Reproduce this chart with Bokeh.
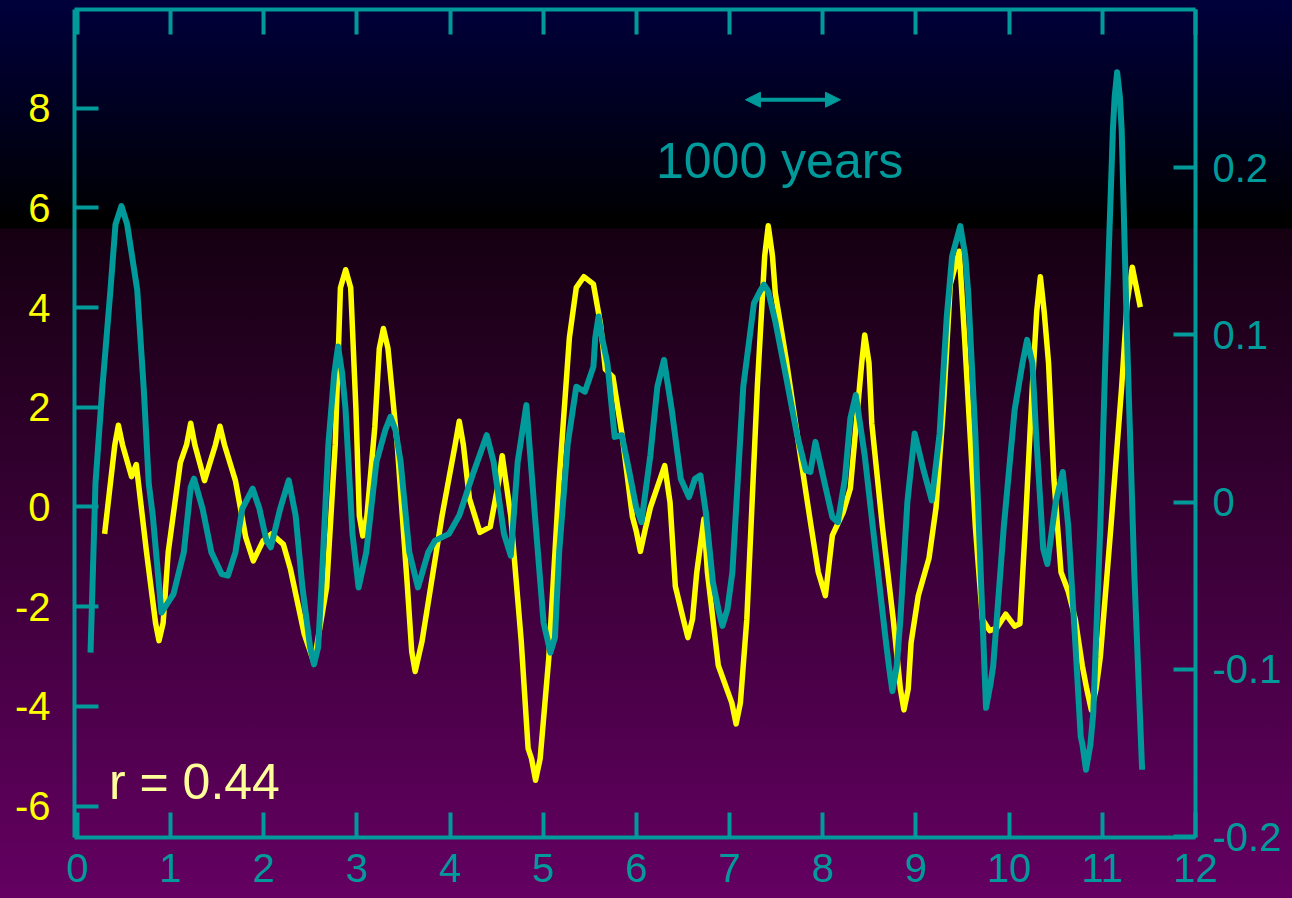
from bokeh.plotting import figure
from bokeh.models import (Range1d, LinearAxis, FixedTicker, CustomJSTickFormatter,
                          Arrow, NormalHead, Label, GlobalInlineStyleSheet, InlineStyleSheet)
from bokeh.embed import file_html
from bokeh.resources import INLINE

# ---------------- data ----------------
x_ticks = list(range(0, 13))
left_ticks = [-6, -4, -2, 0, 2, 4, 6, 8]
right_ticks = [-0.2, -0.1, 0.0, 0.1, 0.2]

# yellow series (left axis)
yellow_x = [0.293, 0.403, 0.441, 0.485, 0.582, 0.633, 0.742, 0.840,
            0.877, 0.921, 0.976, 1.106, 1.173, 1.217, 1.261, 1.365,
            1.483, 1.531, 1.579, 1.697, 1.808, 1.889, 1.993, 2.084,
            2.212, 2.288, 2.436, 2.540, 2.676, 2.768, 2.824, 2.880,
            2.934, 2.990, 3.027, 3.064, 3.108, 3.193, 3.241, 3.285,
            3.334, 3.433, 3.543, 3.589, 3.626, 3.700, 3.914, 4.055,
            4.099, 4.143, 4.208, 4.321, 4.431, 4.524, 4.560, 4.652,
            4.764, 4.838, 4.875, 4.918, 4.967, 5.059, 5.171, 5.281,
            5.355, 5.436, 5.539, 5.614, 5.667, 5.748, 5.843, 5.957,
            5.997, 6.043, 6.092, 6.150, 6.304, 6.361, 6.418, 6.503,
            6.553, 6.602, 6.648, 6.725, 6.762, 6.879, 7.024, 7.070,
            7.116, 7.185, 7.298, 7.377, 7.415, 7.460, 7.491, 7.606,
            7.760, 7.874, 7.952, 8.028, 8.103, 8.220, 8.296, 8.418,
            8.450, 8.496, 8.526, 8.639, 8.756, 8.833, 8.871, 8.917,
            8.948, 9.025, 9.140, 9.216, 9.293, 9.369, 9.465, 9.523,
            9.637, 9.713, 9.791, 9.867, 9.963, 10.059, 10.116, 10.174,
            10.249, 10.296, 10.335, 10.376, 10.423, 10.481, 10.557, 10.634,
            10.710, 10.785, 10.833, 10.882, 10.933, 10.979, 11.093, 11.208,
            11.266, 11.322, 11.408]
yellow_v = [-0.54, 1.25, 1.64, 1.25, 0.61, 0.85, -0.89, -2.33,
            -2.68, -2.33, -0.90, 0.89, 1.25, 1.68, 1.25, 0.53,
            1.25, 1.62, 1.25, 0.53, -0.61, -1.08, -0.68, -0.54,
            -0.75, -1.25, -2.55, -3.12, -1.61, 1.25, 4.40, 4.76,
            4.40, 1.97, -0.18, -0.58, -0.18, 1.61, 3.18, 3.58,
            3.18, 1.26, -1.61, -2.90, -3.30, -2.69, -0.18, 1.25,
            1.72, 1.25, 0.17, -0.51, -0.40, 0.53, 1.03, -0.18,
            -2.69, -4.84, -5.05, -5.48, -5.05, -3.05, 0.53, 3.40,
            4.40, 4.62, 4.47, 3.68, 2.76, 2.61, 1.49, -0.19,
            -0.47, -0.89, -0.47, -0.01, 0.83, 0.09, -1.59, -2.25,
            -2.62, -2.25, -1.31, -0.24, -1.31, -3.18, -3.93, -4.35,
            -3.93, -2.25, 2.42, 5.04, 5.64, 5.04, 4.29, 2.98,
            1.02, -0.38, -1.31, -1.78, -0.57, -0.10, 0.37, 2.89,
            3.45, 2.89, 1.68, -0.38, -2.25, -3.65, -4.07, -3.65,
            -2.72, -1.78, -1.03, -0.01, 1.96, 4.47, 5.13, 3.36,
            -0.38, -2.25, -2.48, -2.43, -2.15, -2.39, -2.34, -0.38,
            2.42, 3.92, 4.62, 3.92, 2.89, 0.55, -1.31, -1.69,
            -2.25, -3.18, -3.65, -4.07, -3.65, -3.00, -0.38, 2.42,
            4.10, 4.81, 4.01]

# teal series (right axis)
teal_x = [0.142, 0.195, 0.267, 0.356, 0.410, 0.474, 0.535, 0.643,
          0.714, 0.767, 0.810, 0.903, 1.032, 1.143, 1.217, 1.253,
          1.345, 1.439, 1.549, 1.616, 1.697, 1.770, 1.882, 1.955,
          2.030, 2.077, 2.177, 2.269, 2.343, 2.416, 2.499, 2.540,
          2.584, 2.620, 2.695, 2.758, 2.798, 2.842, 2.878, 2.953,
          3.019, 3.101, 3.210, 3.305, 3.361, 3.415, 3.470, 3.563,
          3.656, 3.766, 3.840, 3.988, 4.099, 4.247, 4.394, 4.468,
          4.579, 4.652, 4.726, 4.819, 4.911, 5.004, 5.041, 5.077,
          5.126, 5.171, 5.263, 5.355, 5.447, 5.539, 5.558, 5.594,
          5.632, 5.689, 5.767, 5.843, 5.921, 5.997, 6.054, 6.150,
          6.225, 6.296, 6.380, 6.476, 6.564, 6.629, 6.687, 6.745,
          6.821, 6.879, 6.923, 6.977, 7.030, 7.147, 7.262, 7.326,
          7.369, 7.415, 7.491, 7.606, 7.721, 7.818, 7.867, 7.921,
          8.009, 8.103, 8.162, 8.238, 8.296, 8.354, 8.450, 8.564,
          8.679, 8.710, 8.747, 8.794, 8.833, 8.908, 8.986, 9.082,
          9.170, 9.254, 9.331, 9.388, 9.476, 9.530, 9.561, 9.637,
          9.695, 9.752, 9.799, 9.829, 9.944, 10.059, 10.143, 10.193,
          10.250, 10.289, 10.366, 10.410, 10.500, 10.576, 10.634, 10.710,
          10.768, 10.787, 10.825, 10.872, 10.903, 10.979, 11.054, 11.113,
          11.132, 11.159, 11.189, 11.208, 11.266, 11.343, 11.427]
teal_v = [-0.090, 0.011, 0.067, 0.127, 0.166, 0.177, 0.166, 0.127,
          0.067, 0.011, -0.008, -0.066, -0.055, -0.030, 0.009, 0.014,
          -0.004, -0.030, -0.043, -0.044, -0.030, -0.004, 0.008, -0.004,
          -0.023, -0.027, -0.004, 0.013, -0.008, -0.051, -0.087, -0.097,
          -0.087, -0.051, 0.035, 0.077, 0.093, 0.077, 0.056, -0.019,
          -0.051, -0.030, 0.024, 0.043, 0.051, 0.043, 0.024, -0.030,
          -0.051, -0.030, -0.023, -0.019, -0.008, 0.017, 0.040, 0.024,
          -0.019, -0.032, 0.024, 0.058, -0.008, -0.072, -0.081, -0.090,
          -0.081, -0.030, 0.035, 0.069, 0.066, 0.081, 0.098, 0.111,
          0.098, 0.083, 0.039, 0.040, 0.019, -0.003, -0.012, 0.028,
          0.069, 0.085, 0.055, 0.014, 0.003, 0.014, 0.016, -0.006,
          -0.048, -0.064, -0.074, -0.064, -0.042, 0.069, 0.119, 0.126,
          0.130, 0.126, 0.108, 0.075, 0.041, 0.019, 0.018, 0.036,
          0.014, -0.009, -0.012, 0.014, 0.050, 0.064, 0.028, -0.028,
          -0.084, -0.098, -0.113, -0.098, -0.070, 0.000, 0.041, 0.019,
          0.001, 0.041, 0.111, 0.147, 0.165, 0.147, 0.125, 0.041,
          -0.042, -0.123, -0.109, -0.098, -0.014, 0.055, 0.083, 0.097,
          0.083, 0.041, -0.028, -0.037, 0.000, 0.018, -0.014, -0.084,
          -0.140, -0.145, -0.160, -0.145, -0.126, -0.014, 0.125, 0.222,
          0.242, 0.257, 0.242, 0.222, 0.097, -0.042, -0.160]

scale_text = "1000 years"
scale_start = 7.17
scale_end = 8.19
scale_level = 8.17
scale_text_x = 6.21
scale_text_y = 6.94
r_text = "r = 0.44"
r_text_x = 0.34
r_text_y = -5.51

# ---------------- style ----------------
TEAL = "#009a9a"
YELLOW = "#ffff00"
PALE = "#ffff99"
FONT = "Liberation Sans"
GRAD = ("linear-gradient(to bottom, #00003c 0px, #000008 200px, #000000 218px, "
        "#000000 228px, #150011 229px, #640062 898px)")

p = figure(width=1292, height=898,
           x_range=Range1d(-0.03, 12.0), y_range=Range1d(-6.63, 9.98),
           output_backend="svg", toolbar_location=None,
           min_border_left=74, min_border_right=97,
           min_border_top=9, min_border_bottom=61)
p.extra_y_ranges = {"right": Range1d(-0.2005, 0.2945)}
p.border_fill_color = None
p.background_fill_color = None
p.outline_line_color = None
p.grid.visible = False
p.stylesheets = [
    GlobalInlineStyleSheet(css=f"html {{ background: {GRAD}; background-size: 100% 898px; "
                               f"background-repeat: no-repeat; background-color: #640062; "
                               f"overflow: hidden; }} body {{ overflow: hidden; }}"),
    InlineStyleSheet(css=f":host {{ background: {GRAD}; background-size: 100% 898px; "
                         f"background-position: 0 0; background-repeat: no-repeat; }}"),
]


def style_axis(ax, color, standoff, tick_in):
    ax.axis_line_color = TEAL
    ax.axis_line_width = 4
    ax.major_tick_line_color = TEAL
    ax.major_tick_line_width = 4
    ax.major_tick_in = tick_in
    ax.major_tick_out = 0
    ax.minor_tick_line_color = None
    ax.major_label_text_color = color
    ax.major_label_text_font = FONT
    ax.major_label_text_font_size = "40px"
    ax.major_label_text_font_style = "normal"
    ax.major_label_standoff = standoff


xb = p.xaxis[0]
xb.ticker = FixedTicker(ticks=x_ticks)
style_axis(xb, TEAL, 16, 25)

yl = p.yaxis[0]
yl.ticker = FixedTicker(ticks=left_ticks)
yl.formatter = CustomJSTickFormatter(code="return tick.toString();")
style_axis(yl, YELLOW, 24, 24)

yr = LinearAxis(y_range_name="right", ticker=FixedTicker(ticks=right_ticks),
                formatter=CustomJSTickFormatter(
                    code="return Math.abs(tick) < 1e-9 ? '0' : tick.toFixed(1);"))
style_axis(yr, TEAL, 17, 22)
p.add_layout(yr, "right")

xt = LinearAxis(ticker=FixedTicker(ticks=x_ticks),
                formatter=CustomJSTickFormatter(code="return '';"))
style_axis(xt, TEAL, 0, 25)
xt.major_label_text_font_size = "0px"
p.add_layout(xt, "above")

p.line(yellow_x, yellow_v, line_color=YELLOW, line_width=5.5, line_join="round")
p.line(teal_x, teal_v, y_range_name="right", line_color=TEAL, line_width=6,
       line_join="round")

p.add_layout(Arrow(start=NormalHead(size=15, fill_color=TEAL, line_color=TEAL),
                   end=NormalHead(size=15, fill_color=TEAL, line_color=TEAL),
                   x_start=scale_start, y_start=scale_level,
                   x_end=scale_end, y_end=scale_level,
                   line_color=TEAL, line_width=4))
p.add_layout(Label(x=scale_text_x, y=scale_text_y, text=scale_text, text_color=TEAL,
                   text_font=FONT, text_font_size="50px", text_baseline="middle"))
p.add_layout(Label(x=r_text_x, y=r_text_y, text=r_text, text_color=PALE,
                   text_font=FONT, text_font_size="50px", text_baseline="middle"))

open("out.html", "w").write(file_html(p, INLINE))
